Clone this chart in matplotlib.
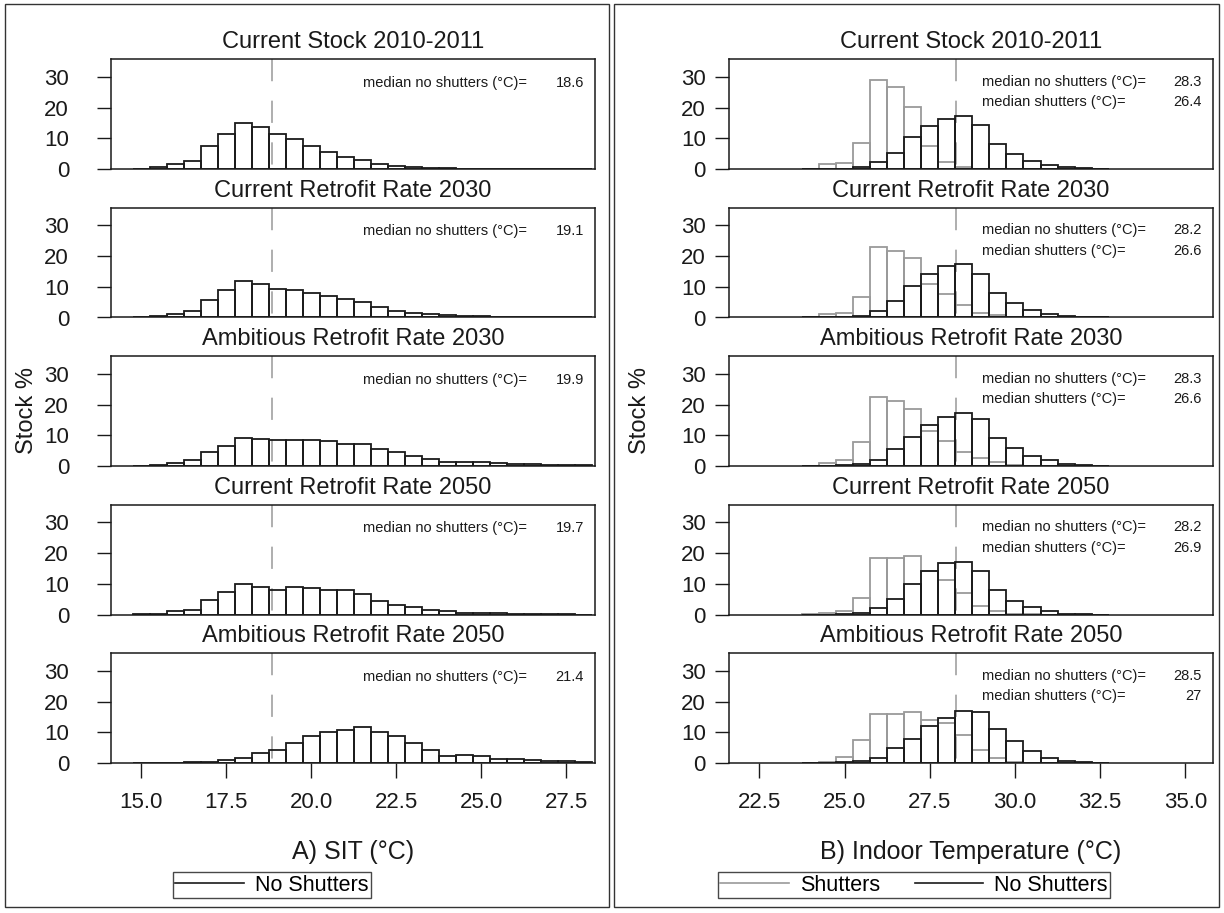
import numpy as np
import matplotlib
matplotlib.use("Agg")
import matplotlib.pyplot as plt
from matplotlib.lines import Line2D
from matplotlib.patches import Rectangle

plt.rcParams['font.family'] = ['Liberation Sans', 'DejaVu Sans']
plt.rcParams['lines.scale_dashes'] = False

# ---------------- data ----------------
scenarios = ["Current Stock 2010-2011", "Current Retrofit Rate 2030",
             "Ambitious Retrofit Rate 2030", "Current Retrofit Rate 2050",
             "Ambitious Retrofit Rate 2050"]

# Panel A: SIT (°C), bin centres (bin width 0.5)
sit_bins = [15.0, 15.5, 16.0, 16.5, 17.0, 17.5, 18.0, 18.5, 19.0, 19.5, 20.0,
            20.5, 21.0, 21.5, 22.0, 22.5, 23.0, 23.5, 24.0, 24.5, 25.0, 25.5,
            26.0, 26.5, 27.0, 27.5, 28.0]
sit_cs2011 = [0.1, 0.65, 1.7, 2.7, 7.6, 11.4, 15.1, 13.6, 11.5, 9.8, 7.4, 5.5, 3.8,
              3.0, 1.7, 0.9, 0.65, 0.4, 0.2, 0.15, 0.1, 0.1, 0.05, 0.0, 0.0, 0.0, 0.0]
sit_crr2030 = [0.05, 0.4, 1.3, 2.2, 5.8, 8.8, 12.0, 10.9, 9.3, 9.0, 8.0, 7.1, 6.1,
               5.1, 3.3, 2.2, 1.6, 1.1, 0.7, 0.4, 0.4, 0.3, 0.2, 0.1, 0.05, 0.0, 0.0]
sit_arr2030 = [0.05, 0.3, 1.1, 1.8, 4.5, 6.6, 9.1, 8.8, 8.4, 8.5, 8.4, 8.0, 7.3,
               7.1, 5.5, 4.6, 3.3, 2.3, 1.4, 1.4, 1.2, 0.9, 0.7, 0.6, 0.3, 0.3, 0.2]
sit_crr2050 = [0.05, 0.2, 1.0, 1.6, 4.6, 7.4, 10.0, 9.1, 8.0, 8.8, 8.6, 8.0, 8.0,
               6.7, 4.3, 3.2, 2.4, 1.5, 1.1, 0.65, 0.55, 0.4, 0.2, 0.15, 0.1, 0.05, 0.0]
sit_arr2050 = [0.05, 0.1, 0.1, 0.2, 0.4, 0.9, 1.7, 3.2, 4.3, 6.4, 8.8, 10.0, 10.8,
               11.7, 10.1, 8.8, 6.5, 4.2, 2.3, 2.6, 2.2, 1.3, 1.2, 1.0, 0.5, 0.6, 0.3]
sit_medians = ["18.6", "19.1", "19.9", "19.7", "21.4"]

# Panel B: indoor temperature (°C), bin centres (bin width 0.5)
it_bins = [24.0, 24.5, 25.0, 25.5, 26.0, 26.5, 27.0, 27.5, 28.0, 28.5, 29.0,
           29.5, 30.0, 30.5, 31.0, 31.5, 32.0, 32.5]
shut_cs2011 = [0.1, 1.6, 2.1, 8.5, 29.0, 26.7, 20.1, 7.6, 2.3, 0.5, 0.1,
               0.0, 0.0, 0.0, 0.0, 0.0, 0.0, 0.0]
shut_crr2030 = [0.05, 1.0, 1.4, 6.8, 22.8, 21.7, 19.3, 11.0, 7.6, 4.0, 1.5,
                0.8, 0.2, 0.0, 0.0, 0.0, 0.0, 0.0]
shut_arr2030 = [0.05, 1.0, 2.0, 7.8, 22.4, 21.2, 18.5, 11.5, 8.2, 4.7, 2.5,
                1.2, 0.4, 0.1, 0.0, 0.0, 0.0, 0.0]
shut_crr2050 = [0.05, 0.5, 1.0, 5.5, 18.3, 18.3, 19.2, 14.0, 11.2, 7.1, 2.7,
                1.1, 0.3, 0.1, 0.0, 0.0, 0.0, 0.0]
shut_arr2050 = [0.05, 0.4, 2.0, 7.5, 15.9, 15.8, 16.7, 14.1, 12.9, 9.0, 4.1,
                1.6, 0.4, 0.1, 0.0, 0.0, 0.0, 0.0]
noshut_cs2011 = [0.0, 0.0, 0.1, 0.5, 2.3, 5.3, 10.5, 13.9, 16.3, 17.3, 14.2,
                 8.0, 4.8, 2.5, 1.3, 0.5, 0.2, 0.05]
noshut_crr2030 = [0.0, 0.0, 0.1, 0.5, 2.1, 5.5, 10.3, 14.0, 16.7, 17.4, 14.2,
                  8.0, 4.8, 2.4, 1.2, 0.5, 0.2, 0.05]
noshut_arr2030 = [0.0, 0.0, 0.3, 0.5, 2.0, 5.5, 9.6, 13.4, 16.0, 17.2, 15.3,
                  9.2, 6.0, 3.2, 1.8, 0.8, 0.3, 0.05]
noshut_crr2050 = [0.0, 0.0, 0.2, 0.5, 2.2, 5.0, 10.0, 14.2, 16.6, 17.2, 14.2,
                  8.0, 4.3, 2.4, 1.1, 0.3, 0.1, 0.0]
noshut_arr2050 = [0.0, 0.0, 0.2, 0.6, 1.5, 4.9, 7.8, 12.0, 14.7, 16.8, 16.5,
                  11.0, 7.3, 3.8, 1.6, 0.8, 0.3, 0.0]
it_med_noshut = ["28.3", "28.2", "28.3", "28.2", "28.5"]
it_med_shut = ["26.4", "26.6", "26.6", "26.9", "27"]

sit_series = [sit_cs2011, sit_crr2030, sit_arr2030, sit_crr2050, sit_arr2050]
shut_series = [shut_cs2011, shut_crr2030, shut_arr2030, shut_crr2050, shut_arr2050]
noshut_series = [noshut_cs2011, noshut_crr2030, noshut_arr2030, noshut_crr2050, noshut_arr2050]

sit_ref = 18.85
it_ref = 28.28
sit_xticks = [15.0, 17.5, 20.0, 22.5, 25.0, 27.5]
it_xticks = [22.5, 25.0, 27.5, 30.0, 32.5, 35.0]
yticks = [0, 10, 20, 30]

# ---------------- layout ----------------
W, H = 1224, 913
fig = plt.figure(figsize=(W / 100, H / 100), dpi=100)
fig.patch.set_facecolor('white')

BLACK = '#1a1a1a'
GRAY = '#9a9a9a'
DASH = '#a8a8a8'

def fx(px):
    return px / W

def fy(py):
    return 1 - py / H

# outer frames
for x0, x1 in [(5, 609), (614, 1219)]:
    fig.add_artist(Rectangle((fx(x0), fy(907)), fx(x1 - x0), (907 - 4) / H,
                             transform=fig.transFigure, fill=False,
                             edgecolor='#333333', linewidth=1.0))

ax_h = 109.7
row_tops = [59.3 + k * 148.5 for k in range(5)]
panels = [dict(x0=110.7, x1=595.0, xlim=(14.1, 28.35), ref=sit_ref,
               xticks=sit_xticks, ypad=20),
          dict(x0=729.3, x1=1212.7, xlim=(21.62, 35.8), ref=it_ref,
               xticks=it_xticks, ypad=7)]

for p_i, p in enumerate(panels):
    for r in range(5):
        top = row_tops[r]
        ax = fig.add_axes([fx(p['x0']), fy(top + ax_h), fx(p['x1'] - p['x0']), ax_h / H])
        ax.set_xlim(*p['xlim'])
        ax.set_ylim(0, 35.7)
        for s in ax.spines.values():
            s.set_color(BLACK)
            s.set_linewidth(1.1)
        ax.set_yticks(yticks)
        ax.tick_params(axis='y', length=10, width=1.0, pad=p['ypad'],
                       labelsize=16, color=BLACK, labelcolor=BLACK)
        if r == 4:
            ax.set_xticks(p['xticks'])
            ax.set_xticklabels([f"{t:.1f}" for t in p['xticks']])
            ax.tick_params(axis='x', length=11, width=1.0, pad=10,
                           labelsize=16, color=BLACK, labelcolor=BLACK)
        else:
            ax.set_xticks([])

        # reference dashed line
        ax.plot([p['ref'], p['ref']], [35.7, 0], color=DASH, lw=1.3,
                dashes=(16, 14), zorder=1)

        if p_i == 0:
            ax.bar(sit_bins, sit_series[r], width=0.5, fill=False,
                   edgecolor=BLACK, linewidth=1.3, zorder=3)
            ax.text(0.521, 0.752, "median no shutters (°C)=", transform=ax.transAxes,
                    fontsize=10.5, color=BLACK, va='baseline', ha='left')
            ax.text(0.977, 0.752, sit_medians[r], transform=ax.transAxes,
                    fontsize=10.5, color=BLACK, va='baseline', ha='right')
        else:
            ax.bar(it_bins, shut_series[r], width=0.5, fill=False,
                   edgecolor=GRAY, linewidth=1.3, zorder=2)
            ax.bar(it_bins, noshut_series[r], width=0.5, fill=False,
                   edgecolor=BLACK, linewidth=1.3, zorder=3)
            ax.text(0.522, 0.757, "median no shutters (°C)=", transform=ax.transAxes,
                    fontsize=10.5, color=BLACK, va='baseline', ha='left')
            ax.text(0.977, 0.757, it_med_noshut[r], transform=ax.transAxes,
                    fontsize=10.5, color=BLACK, va='baseline', ha='right')
            ax.text(0.522, 0.574, "median shutters (°C)=", transform=ax.transAxes,
                    fontsize=10.5, color=BLACK, va='baseline', ha='left')
            ax.text(0.977, 0.574, it_med_shut[r], transform=ax.transAxes,
                    fontsize=10.5, color=BLACK, va='baseline', ha='right')

        ax.text(0.5, 1.10, scenarios[r], transform=ax.transAxes, ha='center',
                va='baseline', fontsize=17, color=BLACK)

# y labels
fig.text(fx(27), fy(410), "Stock %", rotation=90, ha='center', va='center',
         fontsize=17, color=BLACK)
fig.text(fx(640), fy(410), "Stock %", rotation=90, ha='center', va='center',
         fontsize=17, color=BLACK)

# x labels
fig.text(fx(352.8), fy(852), "A) SIT (°C)", ha='center', va='center',
         fontsize=18, color=BLACK)
fig.text(fx(971), fy(852), "B) Indoor Temperature (°C)", ha='center', va='center',
         fontsize=18, color=BLACK)

# legends
legA = fig.legend([Line2D([0], [0], color=BLACK, lw=1.2)], ["No Shutters"],
                  loc='center', bbox_to_anchor=(fx(272), fy(885)),
                  bbox_transform=fig.transFigure, frameon=True, fancybox=False,
                  fontsize=15.5, handlelength=3.2, handletextpad=0.5,
                  borderpad=0.12, borderaxespad=0)
legA.get_frame().set_edgecolor(BLACK)
legA.get_frame().set_linewidth(1.0)

legB = fig.legend([Line2D([0], [0], color=GRAY, lw=1.2),
                   Line2D([0], [0], color=BLACK, lw=1.2)],
                  ["Shutters", "No Shutters"], ncol=2,
                  loc='center', bbox_to_anchor=(fx(914), fy(885)),
                  bbox_transform=fig.transFigure, frameon=True, fancybox=False,
                  fontsize=15.5, handlelength=3.2, handletextpad=0.5,
                  columnspacing=1.6, borderpad=0.12, borderaxespad=0)
legB.get_frame().set_edgecolor(BLACK)
legB.get_frame().set_linewidth(1.0)

fig.savefig("out.png", dpi=100, facecolor='white')
